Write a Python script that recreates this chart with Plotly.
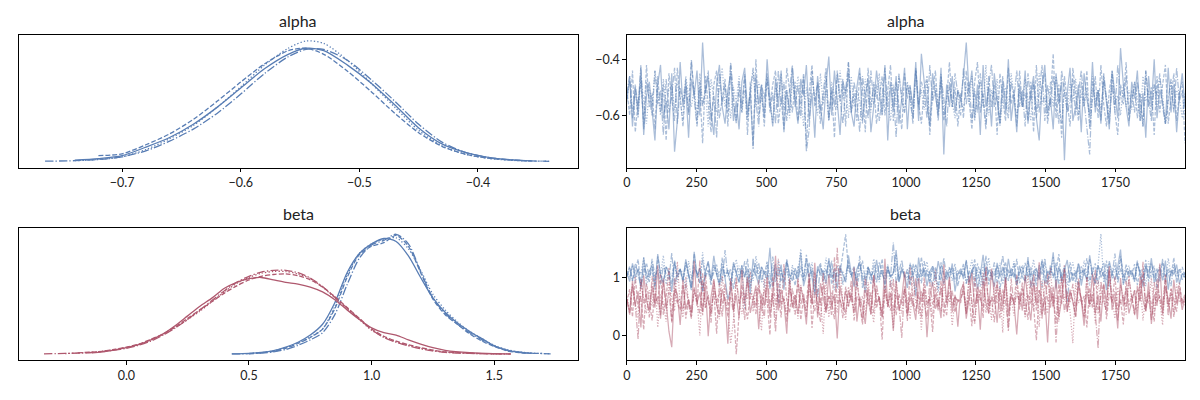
import numpy as np
import plotly.graph_objects as go

# ---------------- data ----------------
draw_count = 2000

# KDE curves (relative density), one list per chain, on a shared grid
alpha_kde_x = [-0.765, -0.74, -0.72, -0.70, -0.68, -0.66, -0.64, -0.62, -0.60, -0.58, -0.56, -0.545,
               -0.53, -0.51, -0.49, -0.47, -0.45, -0.43, -0.41, -0.39, -0.37, -0.355, -0.34]
alpha_kde = [
    [None, 0.012, 0.025, 0.05, 0.12, 0.20, 0.31, 0.45, 0.61, 0.77, 0.89, 0.94, 0.92, 0.80, 0.65, 0.47, 0.28, 0.145, 0.075, 0.033, 0.014, 0.006, None],
    [None, None, 0.05, 0.065, 0.14, 0.23, 0.35, 0.50, 0.66, 0.81, 0.92, 0.94, 0.89, 0.75, 0.58, 0.40, 0.24, 0.125, 0.06, 0.027, 0.012, 0.006, None],
    [None, 0.008, 0.018, 0.04, 0.10, 0.19, 0.30, 0.45, 0.62, 0.80, 0.94, 1.0, 0.98, 0.84, 0.65, 0.45, 0.26, 0.13, 0.06, 0.025, 0.01, 0.005, 0.003],
    [0.004, 0.008, 0.018, 0.04, 0.09, 0.17, 0.27, 0.40, 0.56, 0.73, 0.87, 0.93, 0.93, 0.84, 0.68, 0.50, 0.31, 0.16, 0.075, 0.033, 0.013, 0.006, 0.003],
]

beta0_kde_x = [0.43, 0.5, 0.55, 0.6, 0.65, 0.7, 0.75, 0.8, 0.85, 0.9, 0.95, 1.0, 1.05, 1.1, 1.15, 1.2,
               1.25, 1.3, 1.35, 1.4, 1.45, 1.5, 1.55, 1.6, 1.65, 1.73]
beta0_kde = [
    [0.003, 0.008, 0.015, 0.03, 0.06, 0.10, 0.16, 0.25, 0.43, 0.68, 0.84, 0.92, 0.965, 0.94, 0.82, 0.64, 0.47, 0.35, 0.26, 0.19, 0.13, 0.07, 0.035, 0.017, 0.008, None],
    [None, 0.005, 0.012, 0.025, 0.05, 0.09, 0.14, 0.21, 0.38, 0.64, 0.83, 0.90, 0.93, 0.99, 0.90, 0.68, 0.46, 0.33, 0.25, 0.17, 0.11, 0.065, 0.03, 0.015, 0.008, None],
    [None, 0.006, 0.013, 0.028, 0.055, 0.095, 0.145, 0.21, 0.40, 0.66, 0.84, 0.92, 0.96, 0.97, 0.88, 0.70, 0.50, 0.37, 0.27, 0.19, 0.13, 0.075, 0.04, 0.02, 0.01, 0.005],
    [0.003, 0.005, 0.01, 0.02, 0.04, 0.075, 0.12, 0.18, 0.33, 0.58, 0.80, 0.91, 0.95, 1.0, 0.92, 0.69, 0.47, 0.34, 0.25, 0.18, 0.12, 0.07, 0.035, 0.018, 0.01, 0.004],
]

beta1_kde_x = [-0.336, -0.25, -0.2, -0.14, -0.1, -0.05, 0.0, 0.05, 0.1, 0.15, 0.2, 0.25, 0.3, 0.35, 0.4,
               0.45, 0.5, 0.55, 0.6, 0.65, 0.7, 0.75, 0.8, 0.85, 0.9, 0.95, 1.0, 1.05, 1.1, 1.15, 1.2,
               1.25, 1.3, 1.4, 1.5, 1.567]
beta1_kde = [
    [None, None, None, 0.012, 0.02, 0.035, 0.055, 0.08, 0.12, 0.17, 0.24, 0.32, 0.40, 0.47, 0.55, 0.60, 0.63, 0.64, 0.62, 0.60, 0.585, 0.56, 0.52, 0.455, 0.37, 0.29, 0.22, 0.18, 0.16, 0.12, 0.085, 0.055, 0.033, 0.013, 0.006, 0.004],
    [None, None, 0.012, 0.018, 0.025, 0.04, 0.06, 0.085, 0.125, 0.17, 0.23, 0.30, 0.37, 0.44, 0.51, 0.57, 0.62, 0.65, 0.665, 0.67, 0.655, 0.62, 0.56, 0.48, 0.39, 0.30, 0.21, 0.15, 0.11, 0.08, 0.055, 0.035, 0.02, 0.009, 0.004, None],
    [None, 0.006, 0.01, 0.017, 0.025, 0.038, 0.055, 0.08, 0.12, 0.165, 0.225, 0.29, 0.36, 0.44, 0.52, 0.59, 0.64, 0.675, 0.69, 0.69, 0.67, 0.63, 0.56, 0.47, 0.38, 0.29, 0.20, 0.145, 0.105, 0.075, 0.05, 0.03, 0.018, 0.008, 0.004, 0.003],
    [0.004, 0.007, 0.01, 0.015, 0.022, 0.035, 0.05, 0.075, 0.11, 0.16, 0.22, 0.29, 0.37, 0.45, 0.53, 0.60, 0.65, 0.685, 0.70, 0.70, 0.68, 0.635, 0.565, 0.475, 0.385, 0.295, 0.205, 0.14, 0.10, 0.07, 0.045, 0.028, 0.016, 0.007, 0.003, 0.002],
]

# Thinned traces (hundredths), 4 chains each, 200 values per chain
alpha_trace = [
    [-55,-46,-64,-50,-60,-43,-67,-53,-48,-58,-69,-49,-42,-61,-55,-65,-45,-73,-62,-41,
     -57,-50,-68,-47,-53,-44,-60,-34,-52,-46,-59,-67,-49,-42,-57,-63,-51,-45,-62,-55,
     -65,-48,-43,-59,-52,-71,-46,-56,-49,-61,-40,-54,-64,-47,-57,-44,-66,-51,-59,-43,
     -55,-63,-47,-53,-42,-62,-52,-68,-46,-57,-65,-49,-39,-60,-44,-55,-67,-48,-52,-45,
     -59,-64,-50,-43,-62,-53,-47,-66,-57,-44,-52,-60,-42,-69,-49,-58,-46,-63,-54,-43,
     -65,-50,-57,-41,-62,-38,-48,-56,-64,-45,-52,-60,-43,-74,-49,-57,-46,-59,-51,-55,
     -46,-34,-52,-44,-61,-49,-67,-42,-57,-50,-64,-45,-55,-63,-48,-59,-40,-62,-53,-66,
     -49,-57,-44,-63,-52,-46,-61,-69,-50,-42,-59,-54,-65,-45,-56,-48,-76,-52,-43,-62,
     -57,-49,-66,-45,-54,-60,-41,-59,-51,-63,-46,-55,-65,-44,-52,-61,-36,-49,-57,-64,
     -48,-54,-44,-62,-52,-68,-46,-57,-40,-61,-51,-55,-63,-43,-59,-49,-66,-53,-45,-57],
    [-51,-60,-44,-66,-55,-48,-63,-42,-57,-52,-65,-46,-59,-49,-69,-45,-54,-62,-43,-55,
     -64,-48,-59,-41,-52,-63,-50,-70,-46,-57,-66,-49,-44,-61,-53,-47,-64,-42,-56,-62,
     -51,-59,-45,-67,-48,-72,-40,-61,-52,-64,-46,-57,-49,-44,-63,-54,-65,-43,-51,-59,
     -48,-62,-55,-45,-71,-52,-42,-57,-49,-63,-54,-46,-61,-51,-68,-44,-55,-47,-64,-41,
     -59,-52,-62,-45,-50,-66,-43,-57,-49,-63,-54,-46,-60,-52,-42,-62,-48,-57,-65,-45,
     -54,-49,-61,-43,-56,-63,-51,-46,-67,-52,-44,-59,-48,-62,-54,-41,-57,-50,-64,-52,
     -61,-44,-55,-65,-48,-41,-59,-52,-63,-46,-57,-49,-67,-45,-54,-62,-43,-56,-51,-64,
     -44,-57,-52,-62,-48,-66,-42,-59,-50,-45,-63,-54,-38,-61,-49,-68,-46,-55,-64,-43,
     -52,-62,-48,-57,-44,-65,-54,-46,-61,-42,-56,-64,-51,-45,-59,-67,-49,-54,-41,-62,
     -55,-48,-61,-52,-64,-44,-57,-50,-67,-46,-59,-49,-42,-63,-54,-45,-62,-52,-48,-70],
    [-54,-48,-58,-51,-61,-46,-55,-63,-50,-57,-44,-53,-60,-47,-56,-51,-49,-58,-48,-54,
     -62,-46,-53,-57,-50,-60,-45,-56,-51,-64,-47,-54,-59,-49,-43,-57,-52,-61,-50,-55,
     -46,-59,-51,-62,-54,-44,-57,-48,-53,-60,-47,-55,-63,-50,-54,-45,-58,-51,-61,-48,
     -55,-46,-53,-64,-50,-57,-47,-54,-60,-45,-56,-51,-62,-48,-53,-58,-44,-54,-50,-61,
     -46,-57,-51,-55,-63,-47,-53,-59,-48,-54,-45,-60,-51,-56,-62,-49,-57,-46,-53,-59,
     -48,-54,-61,-44,-56,-51,-58,-47,-63,-52,-49,-57,-45,-60,-54,-50,-55,-61,-51,-54,
     -58,-49,-56,-46,-62,-53,-48,-57,-42,-60,-51,-55,-47,-64,-54,-50,-58,-45,-53,-61,
     -51,-57,-47,-54,-62,-49,-58,-45,-56,-53,-61,-48,-57,-46,-54,-63,-51,-58,-48,-55,
     -47,-60,-52,-57,-50,-64,-46,-55,-51,-58,-48,-54,-61,-44,-56,-53,-60,-49,-57,-51,
     -58,-48,-54,-62,-46,-55,-51,-60,-49,-57,-47,-53,-63,-55,-48,-58,-51,-54,-61,-52],
    [-52,-46,-61,-49,-57,-42,-65,-48,-54,-60,-44,-56,-51,-67,-47,-59,-53,-43,-63,-50,
     -55,-47,-60,-40,-54,-64,-48,-57,-51,-44,-62,-53,-68,-45,-56,-49,-59,-41,-53,-63,
     -48,-57,-46,-61,-51,-43,-55,-64,-49,-54,-45,-59,-52,-63,-44,-56,-48,-62,-51,-42,
     -57,-49,-61,-46,-73,-65,-44,-55,-48,-59,-52,-43,-62,-50,-57,-45,-54,-63,-51,-41,
     -59,-48,-55,-66,-46,-53,-61,-44,-56,-49,-62,-54,-43,-57,-48,-51,-68,-45,-55,-59,
     -49,-54,-63,-44,-57,-48,-52,-61,-42,-55,-51,-62,-46,-54,-64,-48,-57,-45,-53,-60,
     -43,-56,-48,-62,-51,-59,-45,-54,-65,-49,-42,-57,-53,-63,-46,-55,-61,-48,-54,-44,
     -57,-51,-64,-45,-55,-48,-61,-52,-42,-62,-49,-57,-46,-54,-63,-44,-51,-59,-55,-47,
     -60,-52,-44,-55,-65,-74,-48,-57,-51,-62,-45,-54,-63,-49,-59,-42,-53,-56,-46,-60,
     -51,-59,-48,-54,-64,-44,-55,-62,-49,-53,-45,-57,-63,-54,-47,-59,-43,-55,-51,-60],
]

beta0_trace = [
    [108,93,124,101,115,80,135,97,111,120,85,140,104,90,118,108,75,127,100,114,
     95,131,106,82,144,102,116,77,109,128,96,137,105,87,119,99,62,79,126,107,
     91,121,101,115,72,132,104,88,118,108,97,151,83,111,102,122,79,129,106,94,
     116,98,142,85,108,125,101,70,119,105,112,89,133,100,109,81,121,104,93,138,
     107,84,114,126,99,74,118,106,91,130,102,111,87,120,100,108,147,92,113,103,
     82,123,107,68,134,101,115,85,110,119,94,128,105,89,112,98,124,76,106,115,
     97,129,90,111,121,80,104,139,94,113,106,84,125,100,118,91,132,102,109,87,
     120,101,93,135,83,108,116,98,127,89,111,105,143,81,119,95,113,130,92,107,
     102,124,86,112,94,138,105,90,121,100,110,78,128,106,96,118,148,87,114,101,
     111,93,126,103,84,119,99,133,91,108,115,95,129,79,112,105,122,89,107,100],
    [104,119,94,111,131,87,107,125,100,114,79,136,106,92,118,109,89,129,102,113,
     91,121,105,83,141,99,116,75,110,126,95,108,122,90,134,101,112,84,123,106,
     93,114,100,132,85,109,124,96,118,104,127,80,107,123,55,113,91,131,102,108,
     86,119,106,94,139,101,115,76,111,125,93,105,128,88,116,100,108,146,174,113,
     104,120,83,109,129,95,112,89,122,106,97,132,78,114,102,107,125,93,118,101,
     109,86,123,105,94,135,100,113,90,119,108,81,126,104,95,116,106,123,85,111,
     101,130,92,114,84,124,107,97,137,88,112,103,120,80,109,127,94,116,99,132,
     90,108,125,100,118,83,113,96,131,105,87,121,102,111,140,91,115,99,126,93,
     112,82,119,103,133,94,109,124,89,116,100,129,84,107,121,97,137,106,92,114,
     104,123,87,113,99,130,93,110,120,81,108,126,95,116,102,134,90,109,118,100],
    [111,100,121,91,114,106,133,86,108,126,95,117,103,138,88,112,102,124,92,115,
     106,80,128,99,118,109,90,143,101,113,94,121,107,83,127,103,114,91,110,131,
     100,120,45,108,116,94,137,105,112,82,125,102,117,92,130,107,99,114,89,121,
     103,109,149,93,118,101,126,85,112,106,95,134,100,116,78,120,105,111,91,128,
     102,113,93,123,107,87,117,100,132,109,92,114,103,122,84,110,140,99,116,106,
     96,125,101,120,89,112,108,127,93,114,103,74,123,106,100,118,94,113,107,102,
     117,91,108,130,97,113,84,122,105,134,95,110,101,125,88,118,108,99,128,92,
     109,121,90,114,103,131,96,112,82,124,106,100,136,93,116,102,120,87,108,126,
     99,113,94,129,106,86,118,101,122,175,91,108,125,97,114,105,132,89,110,120,
     102,93,124,108,116,85,128,100,112,94,121,106,90,133,104,117,96,113,107,101],
    [101,116,94,124,105,84,119,108,92,132,102,112,88,120,106,97,142,86,109,114,
     96,127,104,77,117,107,91,131,100,113,87,121,105,110,93,147,101,115,80,109,
     120,99,128,90,108,114,102,125,92,112,106,85,136,100,117,94,108,126,88,113,
     105,95,120,101,133,91,110,107,66,121,104,114,99,129,93,109,117,87,106,124,
     100,113,94,137,82,108,118,102,112,90,127,106,96,116,101,160,89,109,130,99,
     114,93,107,122,104,90,128,101,110,85,117,106,95,134,100,108,116,93,112,105,
     123,89,110,103,131,97,114,83,120,106,100,126,91,109,138,95,113,102,124,87,
     107,119,95,128,101,112,86,121,105,133,93,114,99,125,89,108,117,58,110,104,
     92,124,106,114,97,131,103,88,119,108,126,94,112,104,141,90,115,100,122,106,
     113,96,129,105,90,120,108,125,99,115,93,132,102,110,85,122,106,114,96,109],
]

beta1_trace = [
    [63,36,94,52,76,14,103,60,42,85,48,121,29,98,57,7,-20,82,71,18,
     90,46,62,32,128,56,74,40,88,-1,66,97,52,36,80,59,-14,94,44,70,
     30,113,55,101,39,62,86,11,72,51,93,33,65,137,43,79,57,3,96,48,
     69,37,84,61,19,100,53,125,31,90,63,41,105,50,71,-5,86,58,38,77,
     59,117,24,67,47,20,81,36,103,56,66,32,132,52,74,8,93,43,63,110,
     39,73,54,27,99,58,80,-3,68,92,46,62,30,122,55,101,40,70,15,77,
     88,29,65,108,48,76,10,94,57,38,115,62,22,82,51,98,35,71,56,2,
     74,43,104,60,26,90,53,126,37,67,-12,84,49,96,31,63,113,41,79,58,
     33,93,62,17,76,52,106,39,70,24,89,56,119,44,66,12,99,50,81,38,
     57,78,28,101,61,42,92,20,71,51,124,35,83,63,29,96,55,74,44,67],
    [57,80,32,101,48,68,10,89,60,26,74,54,106,36,66,116,21,78,56,44,
     97,29,62,41,83,51,129,35,104,59,40,76,3,92,55,65,32,99,47,-32,
     37,87,57,28,73,67,50,96,42,79,60,1,102,53,70,31,123,61,39,81,
     48,95,27,64,55,108,13,75,58,23,91,45,68,34,135,54,63,30,84,50,
     73,39,94,58,19,78,61,37,104,47,67,-7,86,57,43,97,35,71,53,80,
     25,117,60,42,75,31,100,54,65,6,83,49,94,33,68,58,77,40,62,56,
     93,38,69,16,101,55,79,30,111,51,64,23,87,59,42,96,8,72,54,105,
     45,84,61,27,95,50,-8,78,63,36,107,57,70,21,89,53,121,41,75,60,
     31,98,55,68,14,82,47,113,38,66,88,28,73,58,102,43,62,19,94,52,
     69,35,86,59,127,42,76,54,24,97,62,39,106,50,80,32,67,91,56,72],
    [67,43,89,54,30,98,61,38,78,50,105,14,71,56,24,92,63,42,127,52,
     31,101,59,39,74,64,0,95,47,69,36,86,55,28,103,60,44,-14,26,93,
     58,37,72,62,110,41,81,53,8,97,61,43,76,23,132,56,67,35,100,50,
     71,29,87,59,42,80,54,107,37,65,3,96,31,74,62,39,119,55,27,84,
     60,44,99,52,68,34,92,58,22,77,63,41,86,49,72,12,95,54,38,80,
     61,28,102,56,69,10,88,48,66,33,113,59,42,97,53,75,17,67,58,62,
     81,36,96,52,19,73,60,109,39,68,27,91,55,79,5,101,50,64,34,87,
     54,73,30,104,63,43,84,15,94,58,38,117,51,69,24,98,61,77,41,-13,
     90,56,67,32,101,48,75,21,95,53,61,39,110,63,29,83,54,70,36,103,
     59,78,43,93,26,68,55,99,37,80,62,18,96,50,72,40,88,57,65,52],
    [60,39,85,51,-6,95,56,72,31,102,54,67,35,91,45,75,25,99,58,63,
     42,88,53,29,79,61,38,107,48,70,22,94,56,76,33,89,52,66,40,100,
     55,74,27,96,64,62,37,85,59,30,104,54,71,6,90,51,64,24,82,58,
     36,98,53,72,32,93,60,42,80,52,108,38,68,57,28,151,62,44,77,50,
     94,26,67,58,26,101,54,74,39,87,61,31,78,49,96,42,69,55,-4,85,
     33,64,51,99,37,76,58,29,92,54,70,43,82,61,35,97,52,67,59,63,
     76,40,104,56,23,88,63,47,119,38,68,54,94,30,79,60,13,98,52,72,
     58,91,35,70,55,106,43,78,28,95,62,48,84,-12,65,102,40,74,56,89,
     47,82,63,31,100,53,71,38,-22,93,60,42,113,55,77,25,87,64,50,97,
     67,36,80,59,108,45,73,27,92,57,69,51,98,34,81,61,41,85,54,62],
]

alpha_xticks = [-0.7, -0.6, -0.5, -0.4]
beta_xticks = [0.0, 0.5, 1.0, 1.5]
draw_ticks = [0, 250, 500, 750, 1000, 1250, 1500, 1750]
alpha_yticks = [-0.6, -0.4]
beta_yticks = [0, 1]

# ---------------- style ----------------
BLUE = (88, 125, 180)
RED = (175, 88, 110)
FONT = "Lato"


def solid(c):
    return "rgb(%d,%d,%d)" % c


def faded(c, a=0.5):
    return "rgba(%d,%d,%d,%.2f)" % (c + (a,))


kde_w = 1.3
kde_dash = ["solid", "4.8px,2.1px", "1.3px,2.1px", "8.3px,2.1px,1.3px,2.1px"]
tr_w = 1.25
tr_dash = ["solid", "3.7px,1.6px", "1.2px,1.65px", "6.4px,1.6px,1.2px,1.6px"]

fig = go.Figure()


def add_kde(xs, chains, color, xa, ya):
    for k, ys in enumerate(chains):
        fig.add_trace(go.Scatter(x=xs, y=ys, mode="lines", xaxis=xa, yaxis=ya,
                                 line=dict(color=solid(color), width=kde_w, dash=kde_dash[k],
                                           shape="spline", smoothing=0.8),
                                 showlegend=False, hoverinfo="skip"))


def add_trace(chains, color, xa, ya):
    for k, vals in enumerate(chains):
        n = len(vals)
        xs = np.linspace(0, draw_count - 1, n)
        ys = np.array(vals) / 100.0
        fig.add_trace(go.Scatter(x=xs, y=ys, mode="lines", xaxis=xa, yaxis=ya,
                                 line=dict(color=faded(color), width=tr_w, dash=tr_dash[k]),
                                 showlegend=False, hoverinfo="skip"))


add_kde(alpha_kde_x, alpha_kde, BLUE, "x", "y")
add_trace(alpha_trace, BLUE, "x2", "y2")
add_kde(beta0_kde_x, beta0_kde, BLUE, "x3", "y3")
add_kde(beta1_kde_x, beta1_kde, RED, "x3", "y3")
add_trace(beta0_trace, BLUE, "x4", "y4")
add_trace(beta1_trace, RED, "x4", "y4")

L = [0.0125, 0.4796]
R = [0.5208, 0.9875]
TOP = [0.5808, 0.9125]
BOT = [0.0993, 0.4293]

axis_common = dict(showline=True, mirror=True, linecolor="black", linewidth=1,
                   ticks="outside", ticklen=3.5, tickwidth=0.8, tickcolor="black",
                   showgrid=False, zeroline=False,
                   tickfont=dict(family=FONT, size=12.5, color="#222"))
noy = dict(showline=True, mirror=True, linecolor="black", linewidth=1,
           showticklabels=False, ticks="", showgrid=False, zeroline=False)

fig.update_layout(
    width=1200, height=400, margin=dict(l=0, r=0, t=0, b=0),
    paper_bgcolor="white", plot_bgcolor="white",
    xaxis=dict(domain=L, anchor="y", range=[-0.787, -0.316], tickvals=alpha_xticks,
               tickformat=".1f", **axis_common),
    yaxis=dict(domain=TOP, anchor="x", range=[-0.05, 1.05], **noy),
    xaxis2=dict(domain=R, anchor="y2", range=[0, draw_count - 1], tickvals=draw_ticks, **axis_common),
    yaxis2=dict(domain=TOP, anchor="x2", range=[-0.787, -0.313], tickvals=alpha_yticks,
                tickformat=".1f", **axis_common),
    xaxis3=dict(domain=L, anchor="y3", range=[-0.438, 1.840], tickvals=beta_xticks,
                tickformat=".1f", **axis_common),
    yaxis3=dict(domain=BOT, anchor="x3", range=[-0.05, 1.05], **noy),
    xaxis4=dict(domain=R, anchor="y4", range=[0, draw_count - 1], tickvals=draw_ticks, **axis_common),
    yaxis4=dict(domain=BOT, anchor="x4", range=[-0.426, 1.845], tickvals=beta_yticks, **axis_common),
)

titles = [("alpha", L, 0.95), ("alpha", R, 0.95), ("beta", L, 0.465), ("beta", R, 0.465)]
for txt, dom, yy in titles:
    fig.add_annotation(text=txt, x=(dom[0] + dom[1]) / 2, y=yy, xref="paper", yref="paper",
                       showarrow=False, xanchor="center", yanchor="middle",
                       font=dict(family=FONT, size=16, color="#222"))

fig.write_html("out.html", config={"displayModeBar": False},
               post_script="document.body.style.margin='0';document.body.style.overflow='hidden';")
